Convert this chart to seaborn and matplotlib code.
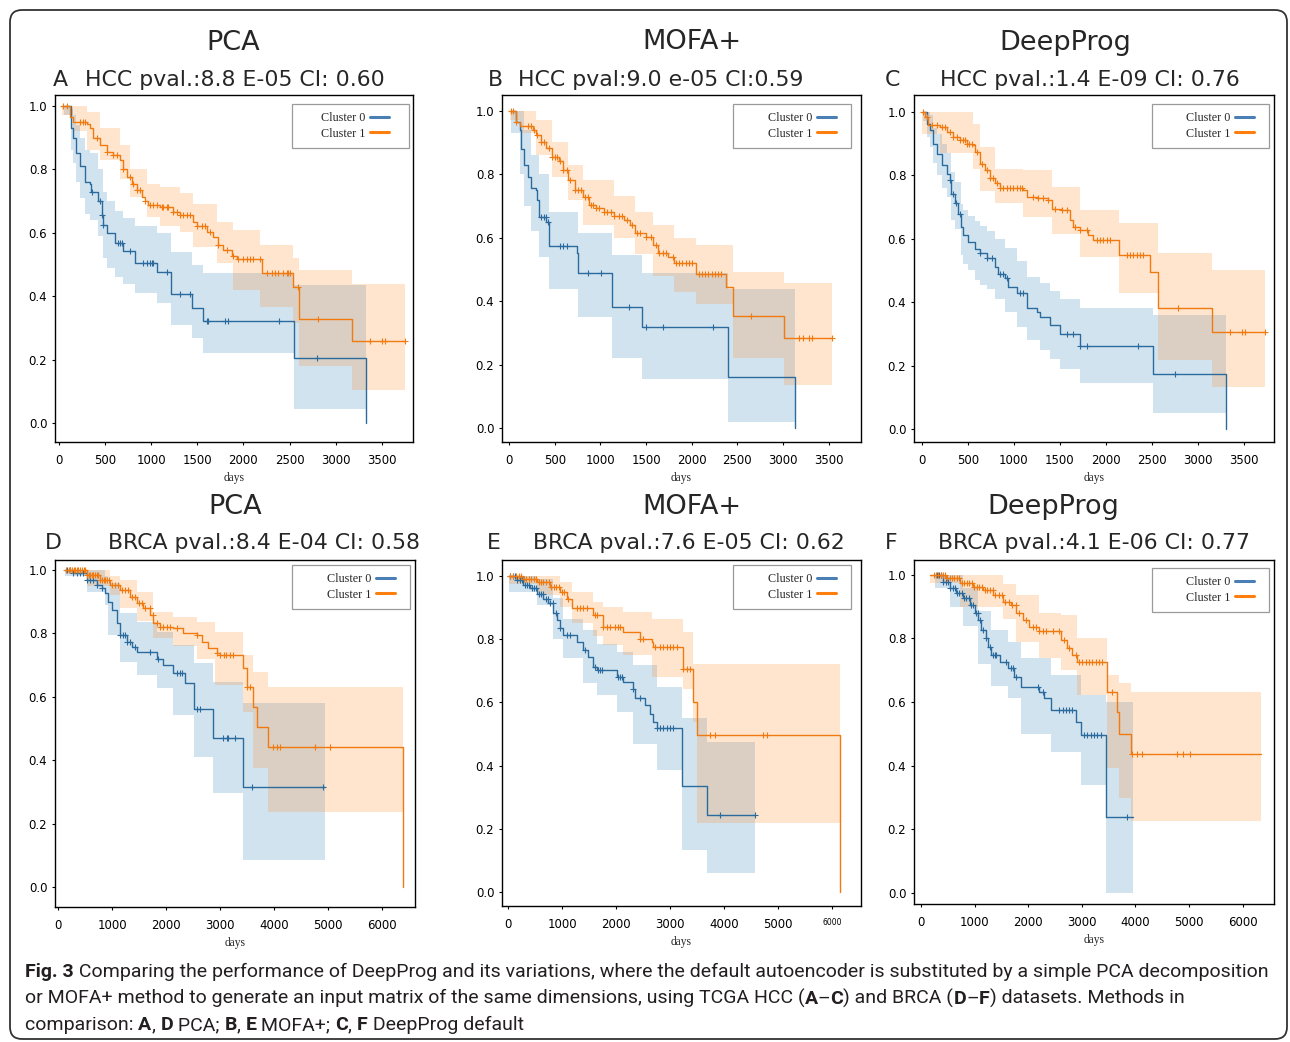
import numpy as np
import pandas as pd
import matplotlib
matplotlib.use("Agg")
import matplotlib.pyplot as plt
import seaborn as sns
from matplotlib.lines import Line2D
from matplotlib.patches import Rectangle, FancyBboxPatch
from matplotlib.font_manager import FontProperties, findfont

# ---------------- data ----------------
# Panel A  (HCC, PCA)
A0_t = [50, 130, 155, 190, 228, 282, 336, 350, 427, 463, 470, 481, 524, 607, 698, 824, 1059, 1211, 1439, 1558, 2549, 3326]
A0_s = [1.0, 0.93, 0.90, 0.85, 0.81, 0.76, 0.755, 0.73, 0.70, 0.68, 0.656, 0.624, 0.598, 0.567, 0.543, 0.506, 0.477, 0.407, 0.362, 0.322, 0.207, 0.0]
A0_bt = [50, 130, 155, 190, 228, 282, 336, 427, 481, 524, 607, 698, 824, 1059, 1211, 1439, 1558, 2549, 3326]
A0_lo = [0.97, 0.86, 0.82, 0.76, 0.71, 0.66, 0.64, 0.59, 0.52, 0.49, 0.46, 0.44, 0.41, 0.38, 0.31, 0.27, 0.22, 0.044, 0.044]
A0_hi = [1.0, 0.99, 0.97, 0.94, 0.90, 0.86, 0.85, 0.80, 0.73, 0.70, 0.67, 0.645, 0.62, 0.60, 0.54, 0.50, 0.474, 0.435, 0.435]
A0_c = [354, 445, 470, 481, 644, 662, 680, 770, 915, 951, 987, 1005, 1023, 1168, 1312, 1421, 1602, 1620, 1800, 1837, 2390, 2795]

A1_t = [29, 119, 155, 300, 336, 372, 445, 517, 589, 662, 698, 734, 788, 842, 897, 933, 969, 1095, 1240, 1312, 1457, 1493, 1602, 1674, 1728, 1782, 1873, 1927, 2198, 2542, 2607, 3181, 3753]
A1_s = [1.0, 0.965, 0.95, 0.944, 0.93, 0.90, 0.876, 0.855, 0.845, 0.83, 0.80, 0.776, 0.755, 0.735, 0.714, 0.70, 0.687, 0.682, 0.666, 0.656, 0.635, 0.62, 0.603, 0.588, 0.56, 0.546, 0.528, 0.516, 0.474, 0.43, 0.33, 0.26, 0.26]
A1_bt = [29, 155, 300, 445, 662, 770, 951, 1095, 1312, 1457, 1710, 1890, 2180, 2542, 2607, 3181, 3753]
A1_lo = [0.97, 0.92, 0.86, 0.83, 0.77, 0.714, 0.65, 0.62, 0.603, 0.556, 0.504, 0.42, 0.367, 0.315, 0.18, 0.105, 0.105]
A1_hi = [1.0, 1.0, 0.98, 0.93, 0.875, 0.80, 0.755, 0.745, 0.724, 0.69, 0.635, 0.61, 0.56, 0.52, 0.483, 0.44, 0.44]
A1_c = [47, 83, 228, 264, 282, 409, 517, 589, 625, 698, 770, 806, 842, 879, 933, 987, 1023, 1059, 1114, 1132, 1168, 1186, 1240, 1276, 1312, 1349, 1385, 1421, 1493, 1547, 1584, 1638, 1728, 1818, 1891, 1945, 1999, 2035, 2072, 2108, 2180, 2252, 2307, 2343, 2379, 2433, 2469, 2487, 2505, 2596, 2813, 3373, 3500, 3536, 3753]

# Panel B  (HCC, MOFA+)
B0_t = [25, 78, 114, 132, 167, 203, 239, 292, 310, 328, 406, 435, 738, 756, 1130, 1450, 2402, 3133]
B0_s = [1.0, 0.965, 0.94, 0.88, 0.829, 0.792, 0.755, 0.75, 0.719, 0.666, 0.65, 0.574, 0.551, 0.49, 0.381, 0.318, 0.16, 0.0]
B0_bt = [25, 114, 167, 239, 328, 435, 756, 1130, 1450, 2402, 3133]
B0_lo = [0.93, 0.80, 0.70, 0.62, 0.54, 0.44, 0.35, 0.22, 0.154, 0.02, 0.02]
B0_hi = [1.0, 1.0, 0.94, 0.86, 0.80, 0.68, 0.614, 0.545, 0.49, 0.44, 0.44]
B0_c = [345, 384, 399, 428, 559, 595, 631, 862, 1005, 1308, 1504, 1682, 2234]

B1_t = [7, 78, 114, 257, 292, 346, 399, 470, 542, 595, 649, 720, 809, 880, 952, 1041, 1148, 1254, 1326, 1379, 1504, 1575, 1629, 1736, 1807, 2049, 2377, 2448, 3008, 3535]
B1_s = [1.0, 0.965, 0.95, 0.94, 0.923, 0.902, 0.881, 0.855, 0.84, 0.813, 0.782, 0.75, 0.729, 0.703, 0.692, 0.682, 0.668, 0.656, 0.64, 0.614, 0.603, 0.577, 0.551, 0.54, 0.521, 0.486, 0.446, 0.354, 0.285, 0.285]
B1_bt = [7, 114, 292, 470, 649, 809, 1148, 1379, 1575, 1807, 2049, 2448, 3008, 3535]
B1_lo = [0.97, 0.93, 0.86, 0.79, 0.72, 0.64, 0.60, 0.55, 0.48, 0.43, 0.39, 0.22, 0.136, 0.136]
B1_hi = [1.0, 1.0, 0.97, 0.90, 0.83, 0.78, 0.73, 0.68, 0.64, 0.60, 0.577, 0.493, 0.456, 0.456]
B1_c = [25, 43, 78, 203, 239, 274, 310, 346, 381, 435, 470, 506, 524, 560, 595, 631, 666, 720, 756, 791, 827, 862, 898, 916, 952, 987, 1041, 1076, 1112, 1148, 1201, 1237, 1290, 1344, 1397, 1433, 1504, 1557, 1611, 1646, 1682, 1718, 1789, 1825, 1860, 1896, 1932, 1967, 2003, 2074, 2110, 2146, 2181, 2217, 2252, 2288, 2324, 2644, 3179, 3215, 3286, 3321, 3535]

# Panel C  (HCC, DeepProg)
C0_t = [20, 54, 90, 127, 163, 217, 271, 307, 315, 362, 398, 423, 452, 506, 578, 633, 705, 795, 832, 904, 940, 1030, 1139, 1247, 1283, 1392, 1500, 1717, 2505, 3297]
C0_s = [1.0, 0.963, 0.942, 0.90, 0.868, 0.832, 0.805, 0.785, 0.742, 0.711, 0.679, 0.637, 0.611, 0.59, 0.569, 0.554, 0.538, 0.511, 0.49, 0.475, 0.449, 0.428, 0.38, 0.37, 0.354, 0.328, 0.30, 0.262, 0.173, 0.0]
C0_bt = [20, 54, 90, 127, 163, 217, 271, 315, 362, 423, 452, 506, 578, 633, 705, 795, 904, 1030, 1139, 1283, 1392, 1500, 1717, 2505, 3297]
C0_lo = [0.97, 0.92, 0.89, 0.84, 0.80, 0.76, 0.73, 0.66, 0.63, 0.55, 0.52, 0.50, 0.47, 0.455, 0.44, 0.41, 0.37, 0.32, 0.28, 0.25, 0.22, 0.19, 0.144, 0.05, 0.05]
C0_hi = [1.0, 1.0, 0.99, 0.95, 0.93, 0.90, 0.87, 0.81, 0.78, 0.71, 0.69, 0.67, 0.655, 0.64, 0.625, 0.60, 0.57, 0.53, 0.48, 0.46, 0.435, 0.41, 0.38, 0.36, 0.36]
C0_c = [307, 343, 372, 416, 633, 705, 759, 850, 886, 922, 1066, 1103, 1573, 1645, 1717, 1790, 2350, 2748]

C1_t = [5, 40, 72, 199, 271, 343, 416, 488, 560, 578, 633, 687, 741, 795, 850, 1103, 1139, 1247, 1374, 1410, 1518, 1609, 1645, 1717, 1808, 1862, 2144, 2477, 2560, 3153, 3724]
C1_s = [1.0, 0.984, 0.958, 0.953, 0.937, 0.921, 0.91, 0.90, 0.895, 0.874, 0.837, 0.816, 0.79, 0.774, 0.761, 0.753, 0.732, 0.727, 0.722, 0.695, 0.69, 0.659, 0.637, 0.627, 0.611, 0.596, 0.548, 0.496, 0.383, 0.307, 0.307]
C1_bt = [5, 199, 560, 633, 795, 1103, 1410, 1717, 2144, 2560, 3153, 3724]
C1_lo = [0.93, 0.87, 0.82, 0.75, 0.711, 0.669, 0.616, 0.543, 0.428, 0.217, 0.133, 0.133]
C1_hi = [1.0, 1.0, 0.96, 0.89, 0.821, 0.816, 0.764, 0.69, 0.648, 0.554, 0.50, 0.50]
C1_c = [18, 54, 108, 163, 217, 253, 307, 343, 380, 416, 452, 470, 495, 517, 542, 597, 651, 705, 741, 777, 813, 850, 886, 922, 958, 994, 1030, 1066, 1085, 1211, 1265, 1320, 1374, 1446, 1518, 1573, 1663, 1717, 1790, 1898, 1934, 1970, 2007, 2043, 2223, 2260, 2296, 2332, 2368, 2404, 2784, 3344, 3471, 3507, 3724]

# Panel D  (BRCA, PCA)
D0_t = [124, 278, 526, 711, 804, 866, 928, 990, 1082, 1144, 1268, 1361, 1454, 1825, 1948, 2134, 2350, 2517, 2864, 3420, 4948]
D0_s = [1.0, 0.99, 0.968, 0.953, 0.942, 0.926, 0.90, 0.874, 0.832, 0.795, 0.774, 0.758, 0.743, 0.72, 0.70, 0.674, 0.643, 0.563, 0.472, 0.315, 0.315]
D0_bt = [124, 526, 866, 928, 1144, 1454, 1825, 2134, 2517, 2864, 3420, 4948]
D0_lo = [0.98, 0.93, 0.89, 0.795, 0.711, 0.669, 0.627, 0.543, 0.412, 0.296, 0.086, 0.086]
D0_hi = [1.0, 1.0, 0.98, 0.96, 0.863, 0.837, 0.806, 0.764, 0.706, 0.648, 0.58, 0.58]
D0_c = [155, 216, 278, 340, 402, 464, 526, 588, 649, 711, 804, 1144, 1206, 1237, 1268, 1330, 1423, 1701, 1856, 2196, 2257, 2288, 2567, 2629, 3062, 3124, 3155, 3278, 3587, 4917]

D1_t = [124, 526, 773, 959, 1144, 1330, 1454, 1577, 1701, 1763, 1887, 2134, 2320, 2567, 2660, 2783, 2938, 3000, 3433, 3495, 3619, 3680, 3897, 6390]
D1_s = [1.0, 0.984, 0.968, 0.953, 0.937, 0.916, 0.895, 0.879, 0.858, 0.832, 0.821, 0.816, 0.80, 0.795, 0.774, 0.753, 0.737, 0.732, 0.69, 0.632, 0.569, 0.506, 0.443, 0.0]
D1_bt = [124, 526, 959, 1144, 1454, 1763, 2134, 2567, 2900, 3433, 3619, 3897, 6390]
D1_lo = [0.99, 0.95, 0.92, 0.88, 0.84, 0.785, 0.76, 0.72, 0.638, 0.553, 0.375, 0.238, 0.238]
D1_hi = [1.0, 1.0, 0.98, 0.97, 0.932, 0.869, 0.853, 0.837, 0.806, 0.732, 0.68, 0.632, 0.632]
D1_c = [150, 190, 212, 250, 283, 310, 345, 368, 405, 430, 470, 498, 530, 560, 590, 622, 650, 684, 715, 745, 776, 810, 840, 868, 900, 935, 990, 1050, 1110, 1180, 1240, 1300, 1365, 1420, 1490, 1550, 1610, 1700, 1760, 1830, 1890, 1950, 2015, 2075, 2200, 2570, 2940, 3005, 3065, 3120, 3190, 3250, 3500, 3560, 3990, 4050, 4115, 4765, 5040]

# Panel E  (BRCA, MOFA+)
E0_t = [20, 154, 278, 401, 525, 648, 741, 833, 895, 957, 1019, 1265, 1389, 1481, 1574, 1636, 2006, 2130, 2315, 2346, 2531, 2623, 2685, 2747, 3216, 3685, 4568]
E0_s = [1.0, 0.986, 0.97, 0.96, 0.944, 0.928, 0.913, 0.881, 0.86, 0.834, 0.813, 0.792, 0.765, 0.744, 0.713, 0.702, 0.681, 0.665, 0.644, 0.613, 0.592, 0.565, 0.539, 0.518, 0.337, 0.246, 0.246]
E0_bt = [20, 525, 833, 1019, 1389, 1636, 2006, 2315, 2747, 3216, 3685, 4568]
E0_lo = [0.95, 0.907, 0.80, 0.739, 0.66, 0.623, 0.57, 0.47, 0.386, 0.134, 0.06, 0.06]
E0_hi = [1.0, 0.99, 0.93, 0.865, 0.828, 0.786, 0.76, 0.718, 0.65, 0.55, 0.476, 0.476]
E0_c = [35, 80, 120, 165, 210, 250, 300, 340, 385, 430, 470, 515, 560, 600, 645, 690, 735, 780, 830, 880, 957, 1080, 1142, 1420, 1605, 1667, 1698, 1728, 2037, 2068, 2099, 2315, 2438, 2747, 2809, 2870, 2932, 2994, 3056, 3920, 4568]

E1_t = [20, 278, 525, 772, 957, 1080, 1173, 1574, 1759, 2130, 2438, 2654, 2673, 3228, 3414, 3488, 6142]
E1_s = [1.0, 0.99, 0.98, 0.965, 0.95, 0.928, 0.897, 0.876, 0.839, 0.821, 0.802, 0.792, 0.776, 0.707, 0.602, 0.497, 0.0]
E1_bt = [20, 525, 957, 1173, 1574, 1759, 2130, 2654, 3228, 3414, 3488, 6142]
E1_lo = [0.975, 0.94, 0.90, 0.85, 0.81, 0.78, 0.75, 0.68, 0.644, 0.539, 0.218, 0.218]
E1_hi = [1.0, 1.0, 0.98, 0.95, 0.918, 0.90, 0.886, 0.865, 0.823, 0.723, 0.723, 0.723]
E1_c = [40, 95, 140, 190, 235, 285, 330, 380, 420, 470, 515, 560, 610, 650, 700, 745, 790, 840, 885, 930, 990, 1040, 1110, 1265, 1327, 1389, 1451, 1605, 1636, 1759, 1821, 1883, 1975, 2037, 2068, 2438, 2500, 2716, 2809, 2870, 2932, 2994, 3056, 3117, 3241, 3302, 3364, 3735, 3827, 4722, 4784]

# Panel F  (BRCA, DeepProg)
F0_t = [260, 414, 538, 662, 786, 909, 1002, 1064, 1126, 1206, 1249, 1311, 1466, 1621, 1744, 1868, 2208, 2301, 2425, 2889, 2981, 3458, 3953]
F0_s = [1.0, 0.979, 0.958, 0.942, 0.927, 0.906, 0.879, 0.858, 0.827, 0.80, 0.774, 0.748, 0.727, 0.706, 0.68, 0.648, 0.633, 0.612, 0.575, 0.538, 0.496, 0.237, 0.237]
F0_bt = [260, 538, 786, 1064, 1311, 1621, 1868, 2425, 2981, 3458, 3953]
F0_lo = [0.96, 0.90, 0.84, 0.72, 0.65, 0.612, 0.50, 0.444, 0.34, 0.0, 0.0]
F0_hi = [1.0, 1.0, 0.96, 0.885, 0.827, 0.79, 0.738, 0.685, 0.622, 0.60, 0.60]
F0_c = [290, 330, 380, 420, 465, 500, 545, 590, 630, 670, 715, 760, 800, 845, 890, 935, 975, 1020, 1060, 1095, 1157, 1219, 1280, 1342, 1373, 1404, 1590, 1682, 1713, 1775, 2177, 2270, 2579, 2641, 2703, 2765, 2827, 3044, 3106, 3168, 3229, 3291, 3353, 3848]

F1_t = [167, 476, 724, 971, 1157, 1342, 1528, 1682, 1775, 1899, 2023, 2208, 2610, 2734, 2827, 2919, 3476, 3662, 3693, 3928, 6340]
F1_s = [1.0, 0.99, 0.974, 0.963, 0.953, 0.937, 0.916, 0.906, 0.879, 0.858, 0.837, 0.822, 0.795, 0.769, 0.748, 0.727, 0.633, 0.57, 0.50, 0.435, 0.435]
F1_bt = [167, 724, 1528, 1775, 2208, 2610, 2919, 3476, 3693, 3928, 6340]
F1_lo = [0.975, 0.90, 0.86, 0.79, 0.74, 0.70, 0.622, 0.392, 0.297, 0.226, 0.226]
F1_hi = [1.0, 1.0, 0.97, 0.937, 0.879, 0.874, 0.80, 0.685, 0.66, 0.63, 0.63]
F1_c = [235, 280, 320, 365, 410, 450, 495, 540, 585, 625, 670, 715, 760, 800, 850, 900, 945, 990, 1040, 1090, 1140, 1190, 1240, 1290, 1340, 1390, 1450, 1510, 1570, 1640, 1700, 1770, 1837, 1961, 2085, 2146, 2208, 2270, 2332, 2456, 2579, 2672, 2765, 2889, 2950, 3012, 3074, 3136, 3198, 3260, 3322, 3383, 3569, 3940, 4032, 4125, 4775, 4898, 5022]

methods = ["PCA", "MOFA+", "DeepProg", "PCA", "MOFA+", "DeepProg"]
letters = ["A", "B", "C", "D", "E", "F"]
subtitles = ["HCC pval.:8.8 E-05 CI: 0.60", "HCC pval:9.0 e-05 CI:0.59", "HCC pval.:1.4 E-09 CI: 0.76",
             "BRCA pval.:8.4 E-04 CI: 0.58", "BRCA pval.:7.6 E-05 CI: 0.62", "BRCA pval.:4.1 E-06 CI: 0.77"]
cluster_labels = ["Cluster 0", "Cluster 1"]
xticks_hcc = [0, 500, 1000, 1500, 2000, 2500, 3000, 3500]
xticks_brca = [0, 1000, 2000, 3000, 4000, 5000, 6000]
yticks = [0.0, 0.2, 0.4, 0.6, 0.8, 1.0]

caption_lines = [
    [("Fig. 3", True), (" Comparing the performance of DeepProg and its variations, where the default autoencoder is substituted by a simple PCA decomposition", False)],
    [("or MOFA+ method to generate an input matrix of the same dimensions, using TCGA HCC (", False), ("A", True), ("\u2013", False), ("C", True),
     (") and BRCA (", False), ("D", True), ("\u2013", False), ("F", True), (") datasets. Methods in", False)],
    [("comparison: ", False), ("A", True), (", ", False), ("D", True), (" PCA; ", False), ("B", True), (", ", False), ("E", True),
     (" MOFA+; ", False), ("C", True), (", ", False), ("F", True), (" DeepProg default", False)],
]

curves = {
    "A": [(A0_t, A0_s, A0_bt, A0_lo, A0_hi, A0_c), (A1_t, A1_s, A1_bt, A1_lo, A1_hi, A1_c)],
    "B": [(B0_t, B0_s, B0_bt, B0_lo, B0_hi, B0_c), (B1_t, B1_s, B1_bt, B1_lo, B1_hi, B1_c)],
    "C": [(C0_t, C0_s, C0_bt, C0_lo, C0_hi, C0_c), (C1_t, C1_s, C1_bt, C1_lo, C1_hi, C1_c)],
    "D": [(D0_t, D0_s, D0_bt, D0_lo, D0_hi, D0_c), (D1_t, D1_s, D1_bt, D1_lo, D1_hi, D1_c)],
    "E": [(E0_t, E0_s, E0_bt, E0_lo, E0_hi, E0_c), (E1_t, E1_s, E1_bt, E1_lo, E1_hi, E1_c)],
    "F": [(F0_t, F0_s, F0_bt, F0_lo, F0_hi, F0_c), (F1_t, F1_s, F1_bt, F1_lo, F1_hi, F1_c)],
}

# ---------------- layout (pixels) ----------------
W, H = 1290, 1042
layout = {
    "A": dict(box=(55, 95, 413, 442), xlim=(-43, 3839), ylim=(-0.059, 1.034), tx=233, ty=50, lx=53, sx=85, sy=86,
              hr=389, lcy=126, lbox=(292, 104, 409, 148)),
    "B": dict(box=(502, 95, 861, 442), xlim=(-78, 3853), ylim=(-0.043, 1.049), tx=692, ty=49, lx=488, sx=518, sy=86,
              hr=836, lcy=126, lbox=(733, 104, 851, 148)),
    "C": dict(box=(914, 95, 1274, 442), xlim=(-83, 3823), ylim=(-0.041, 1.053), tx=1065, ty=50, lx=885, sx=940, sy=86,
              hr=1254, lcy=126, lbox=(1152, 104, 1269, 148)),
    "D": dict(box=(55, 560, 415, 907), xlim=(-62, 6618), ylim=(-0.062, 1.0315), tx=235, ty=514, lx=45, sx=108, sy=549,
              hr=395, lcy=587, lbox=(292, 565, 410, 609)),
    "E": dict(box=(502, 560, 861, 906), xlim=(-117, 6531), ylim=(-0.043, 1.05), tx=692, ty=514, lx=487, sx=533, sy=549,
              hr=836, lcy=587, lbox=(733, 565, 851, 609)),
    "F": dict(box=(914, 560, 1274, 904), xlim=(-130, 6587), ylim=(-0.036, 1.047), tx=1053, ty=514, lx=885, sx=938, sy=549,
              hr=1254, lcy=590, lbox=(1152, 568, 1269, 612)),
}

COLORS = ["#1f77b4", "#ff7f0e"]
LINE_COLORS = ["#2a6a9c", "#f07a10"]

sns.set_style("ticks")
plt.rcParams["font.family"] = ["DejaVu Sans"]
plt.rcParams["axes.linewidth"] = 1.0

fig = plt.figure(figsize=(W / 100, H / 100), dpi=100)


def fx(px):
    return px / W


def fy(py):
    return 1 - py / H


def draw_km(ax, t, s, bt, lo, hi, cens, color, lcolor):
    ax.fill_between(bt, lo, hi, step="post", color=color, alpha=0.2, lw=0, zorder=1)
    df = pd.DataFrame({"days": t, "surv": s})
    sns.lineplot(data=df, x="days", y="surv", drawstyle="steps-post", color=lcolor, lw=1.0,
                 estimator=None, sort=False, ax=ax, zorder=3)
    idx = np.clip(np.searchsorted(np.asarray(t), np.asarray(cens), side="right") - 1, 0, None)
    cy = np.asarray(s)[idx]
    sns.scatterplot(x=np.asarray(cens, dtype=float), y=cy, marker="+", s=20, color=lcolor,
                    linewidth=0.8, ax=ax, zorder=4)


serif = "Liberation Serif"
for i, key in enumerate(letters):
    L = layout[key]
    l, t, r, b = L["box"]
    ax = fig.add_axes([fx(l), fy(b), (r - l) / W, (b - t) / H])
    for ci, crv in enumerate(curves[key]):
        draw_km(ax, *crv, COLORS[ci], LINE_COLORS[ci])
    ax.set_xlim(*L["xlim"])
    ax.set_ylim(*L["ylim"])
    xt = xticks_hcc if i < 3 else xticks_brca
    ax.set_xticks(xt, [str(v) for v in xt])
    ax.set_yticks(yticks, [f"{v:.1f}" for v in yticks])
    ax.tick_params(length=2.5, width=0.8, labelsize=8.5, colors="black")
    ax.tick_params(axis="x", pad=6)
    ax.tick_params(axis="y", pad=3)
    if key == "E":
        for lab in ax.get_xticklabels():
            if lab.get_text() == "6000":
                lab.set_fontsize(5.5)
    ax.set_xlabel("days", family=serif, fontsize=8.3, labelpad=4)
    ax.set_ylabel("")
    for sp in ax.spines.values():
        sp.set_visible(True)
        sp.set_color("black")
        sp.set_linewidth(1.0)

    # legend
    x0, y0, x1, y1 = L["lbox"]
    ax.add_patch(Rectangle((fx(x0), fy(y1)), (x1 - x0) / W, (y1 - y0) / H, transform=fig.transFigure,
                           facecolor="white", edgecolor="#9a9a9a", lw=0.9, zorder=6, clip_on=False))
    handles = [Line2D([], [], color="#4a7fb5", lw=2.2), Line2D([], [], color=COLORS[1], lw=2.2)]
    leg = ax.legend(handles, cluster_labels, loc="center right", bbox_to_anchor=(fx(L["hr"]), fy(L["lcy"])),
                    bbox_transform=fig.transFigure, frameon=False, markerfirst=False,
                    prop={"family": serif, "size": 8.7}, handlelength=1.6, handletextpad=0.35,
                    labelspacing=0.28, borderpad=0, borderaxespad=0)
    leg.set_zorder(7)

    # titles
    fig.text(fx(L["tx"]), fy(L["ty"]), methods[i], ha="center", va="baseline", fontsize=19.5)
    fig.text(fx(L["lx"]), fy(L["sy"]), key, ha="left", va="baseline", fontsize=15.8)
    fig.text(fx(L["sx"]), fy(L["sy"]), subtitles[i], ha="left", va="baseline", fontsize=15.8)

# outer rounded frame
fig.patches.append(FancyBboxPatch((10, 3), 1277, 1029, boxstyle="round,pad=0,rounding_size=12",
                                  transform=None, fill=False, edgecolor="#333333", lw=1.3))


# caption
def has_font(name):
    try:
        findfont(FontProperties(family=name), fallback_to_default=False)
        return True
    except Exception:
        return False


cap_family = "Liberation Sans Narrow" if has_font("Liberation Sans Narrow") else "Roboto"
renderer = fig.canvas.get_renderer()


def text_width(txt, size, bold):
    fp = FontProperties(family=cap_family, size=size, weight="bold" if bold else "normal")
    w1, _, _ = renderer.get_text_width_height_descent("|" + txt + "|", fp, ismath=False)
    w0, _, _ = renderer.get_text_width_height_descent("||", fp, ismath=False)
    return w1 - w0


base_size = 14.0
w_line1 = sum(text_width(tx, base_size, bd) for tx, bd in caption_lines[0])
cap_size = min(15.0, base_size * 1247.0 / w_line1)
for li, line in enumerate(caption_lines):
    x = 25.0
    ybase = 977 + li * 26.5
    for tx, bd in line:
        fig.text(fx(x), fy(ybase), tx, ha="left", va="baseline", color="#231f20",
                 fontproperties=FontProperties(family=cap_family, size=cap_size, weight="bold" if bd else "normal"))
        x += text_width(tx, cap_size, bd)

fig.savefig("out.png", dpi=100)
